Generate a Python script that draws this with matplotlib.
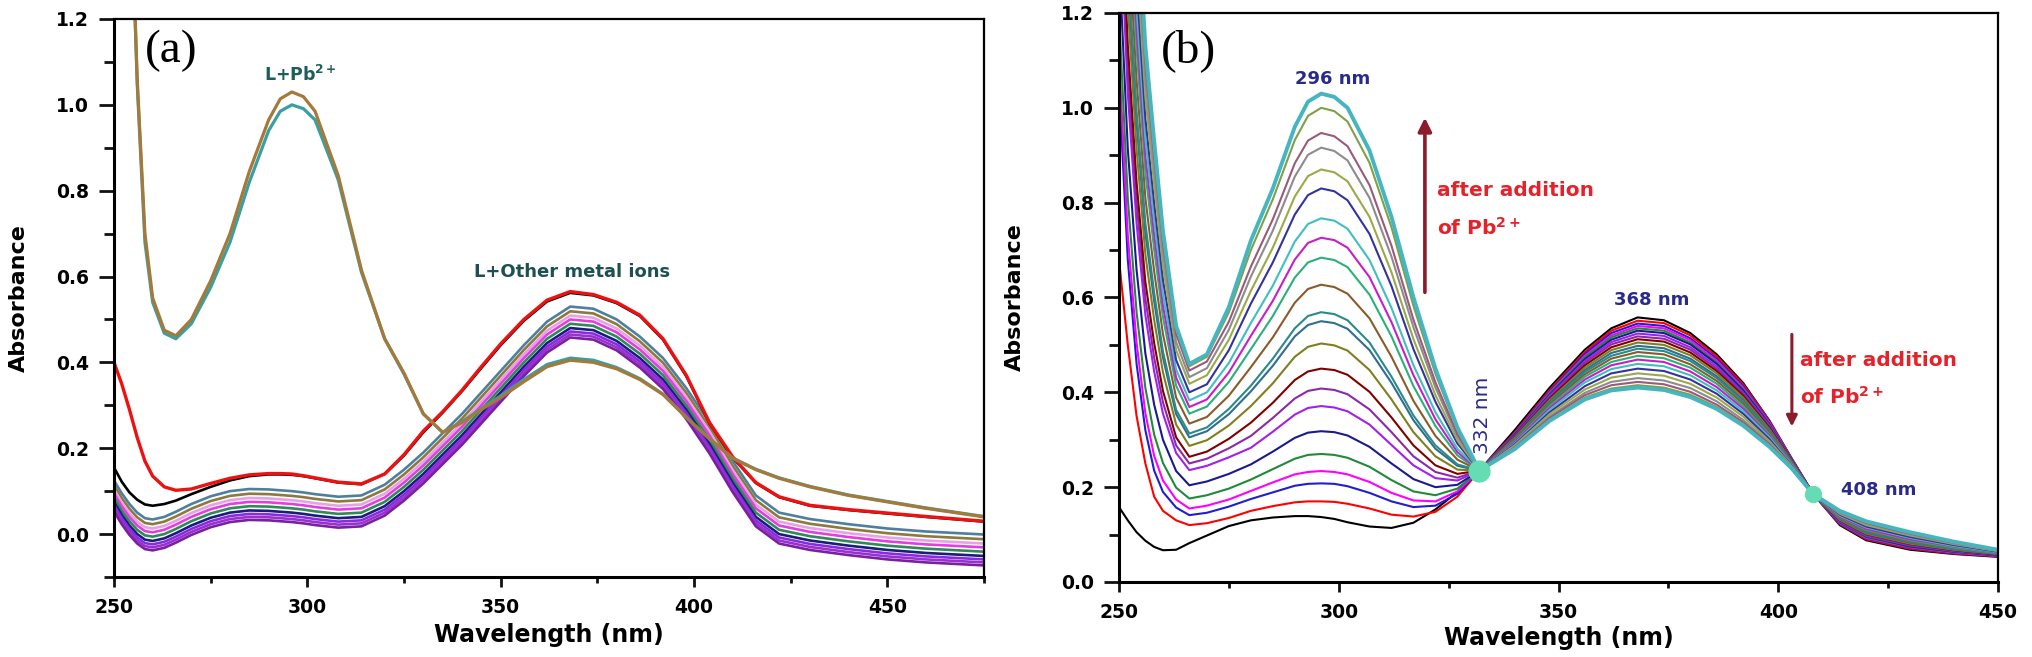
import matplotlib
matplotlib.use("Agg")
import matplotlib.pyplot as plt
from matplotlib.ticker import MultipleLocator, FormatStrFormatter

plt.rcParams['font.family'] = ['DejaVu Sans']
plt.rcParams['mathtext.fontset'] = 'dejavusans'
plt.rcParams['font.weight'] = 'bold'

# ---------------- Panel (a) data ----------------
WL_A = [250, 252, 254, 256, 258, 260, 263, 266, 270, 275, 280, 285, 290, 293, 296, 299,
        302, 308, 314, 320, 325, 330, 335, 340, 345, 350, 356, 362, 368, 374,
        380, 386, 392, 398, 404, 410, 416, 422, 430, 440, 450, 460, 475]

a_pb_brown = [3.0, 2.2, 1.6, 1.06, 0.70, 0.55, 0.475, 0.462, 0.50, 0.59, 0.70, 0.845, 0.965, 1.014, 1.03, 1.019,
              0.985, 0.835, 0.615, 0.455, 0.375, 0.28, 0.237, 0.26, 0.29, 0.318, 0.355, 0.39, 0.405, 0.40,
              0.385, 0.36, 0.325, 0.272, 0.222, 0.177, 0.15, 0.13, 0.11, 0.09, 0.075, 0.06, 0.04]
a_pb_teal = [3.0, 2.2, 1.6, 1.05, 0.68, 0.54, 0.468, 0.455, 0.49, 0.575, 0.68, 0.82, 0.94, 0.985, 1.00, 0.991,
             0.965, 0.825, 0.61, 0.455, 0.373, 0.28, 0.237, 0.262, 0.292, 0.322, 0.36, 0.395, 0.41, 0.405,
             0.388, 0.362, 0.326, 0.272, 0.222, 0.177, 0.151, 0.131, 0.111, 0.091, 0.076, 0.061, 0.041]
a_red = [0.40, 0.35, 0.29, 0.225, 0.17, 0.135, 0.11, 0.102, 0.105, 0.118, 0.13, 0.138, 0.141, 0.141, 0.14, 0.136,
         0.131, 0.121, 0.117, 0.14, 0.185, 0.24, 0.285, 0.335, 0.39, 0.443, 0.5, 0.545, 0.565, 0.558,
         0.54, 0.51, 0.455, 0.37, 0.26, 0.18, 0.12, 0.087, 0.067, 0.057, 0.049, 0.041, 0.03]
a_black = [0.155, 0.122, 0.097, 0.08, 0.069, 0.066, 0.07, 0.078, 0.093, 0.11, 0.125, 0.135, 0.139, 0.139, 0.138, 0.135,
           0.13, 0.12, 0.116, 0.14, 0.183, 0.237, 0.283, 0.333, 0.387, 0.44, 0.497, 0.542, 0.562, 0.556,
           0.538, 0.508, 0.453, 0.368, 0.258, 0.178, 0.119, 0.086, 0.066, 0.056, 0.048, 0.04, 0.029]
a_m0 = [0.125, 0.095, 0.070, 0.050, 0.037, 0.034, 0.040, 0.052, 0.070, 0.088, 0.100, 0.105, 0.104, 0.102, 0.100, 0.097,
        0.093, 0.087, 0.090, 0.115, 0.150, 0.190, 0.235, 0.280, 0.330, 0.380, 0.440, 0.495, 0.530, 0.525,
        0.500, 0.460, 0.410, 0.340, 0.260, 0.170, 0.090, 0.050, 0.035, 0.023, 0.013, 0.006, -0.001]
a_m1 = [0.114, 0.084, 0.059, 0.039, 0.026, 0.023, 0.029, 0.041, 0.059, 0.077, 0.089, 0.094, 0.093, 0.091, 0.089, 0.086,
        0.082, 0.076, 0.079, 0.104, 0.139, 0.179, 0.224, 0.269, 0.319, 0.369, 0.429, 0.484, 0.519, 0.514,
        0.489, 0.449, 0.399, 0.329, 0.249, 0.159, 0.079, 0.039, 0.024, 0.012, 0.002, -0.005, -0.012]
a_m2 = [0.104, 0.074, 0.049, 0.029, 0.016, 0.013, 0.019, 0.031, 0.049, 0.067, 0.079, 0.084, 0.083, 0.081, 0.079, 0.076,
        0.072, 0.066, 0.069, 0.094, 0.129, 0.169, 0.214, 0.259, 0.309, 0.359, 0.419, 0.474, 0.509, 0.504,
        0.479, 0.439, 0.389, 0.319, 0.239, 0.149, 0.069, 0.029, 0.014, 0.002, -0.008, -0.015, -0.022]
a_m3 = [0.095, 0.065, 0.040, 0.020, 0.007, 0.004, 0.010, 0.022, 0.040, 0.058, 0.070, 0.075, 0.074, 0.072, 0.070, 0.067,
        0.063, 0.057, 0.060, 0.085, 0.120, 0.160, 0.205, 0.250, 0.300, 0.350, 0.410, 0.465, 0.500, 0.495,
        0.470, 0.430, 0.380, 0.310, 0.230, 0.140, 0.060, 0.020, 0.005, -0.007, -0.017, -0.024, -0.031]
a_m4 = [0.085, 0.055, 0.030, 0.010, -0.003, -0.006, 0.000, 0.012, 0.030, 0.048, 0.060, 0.065, 0.064, 0.062, 0.060, 0.057,
        0.053, 0.047, 0.050, 0.075, 0.110, 0.150, 0.195, 0.240, 0.290, 0.340, 0.400, 0.455, 0.490, 0.485,
        0.460, 0.420, 0.370, 0.300, 0.220, 0.130, 0.050, 0.010, -0.005, -0.017, -0.027, -0.034, -0.041]
a_m5 = [0.075, 0.045, 0.020, 0.000, -0.013, -0.016, -0.010, 0.002, 0.020, 0.038, 0.050, 0.055, 0.054, 0.052, 0.050, 0.047,
        0.043, 0.037, 0.040, 0.065, 0.100, 0.140, 0.185, 0.230, 0.280, 0.330, 0.390, 0.445, 0.480, 0.475,
        0.450, 0.410, 0.360, 0.290, 0.210, 0.120, 0.040, 0.000, -0.015, -0.027, -0.037, -0.044, -0.051]
a_m6 = [0.067, 0.037, 0.012, -0.008, -0.021, -0.024, -0.018, -0.006, 0.012, 0.030, 0.042, 0.047, 0.046, 0.044, 0.042, 0.039,
        0.035, 0.029, 0.032, 0.057, 0.092, 0.132, 0.177, 0.222, 0.272, 0.322, 0.382, 0.437, 0.472, 0.467,
        0.442, 0.402, 0.352, 0.282, 0.202, 0.112, 0.032, -0.008, -0.023, -0.035, -0.045, -0.052, -0.059]
a_m7 = [0.060, 0.030, 0.005, -0.015, -0.028, -0.031, -0.025, -0.013, 0.005, 0.023, 0.035, 0.040, 0.039, 0.037, 0.035, 0.032,
        0.028, 0.022, 0.025, 0.050, 0.085, 0.125, 0.170, 0.215, 0.265, 0.315, 0.375, 0.430, 0.465, 0.460,
        0.435, 0.395, 0.345, 0.275, 0.195, 0.105, 0.025, -0.015, -0.030, -0.042, -0.052, -0.059, -0.066]
a_m8 = [0.053, 0.023, -0.002, -0.022, -0.035, -0.038, -0.032, -0.020, -0.002, 0.016, 0.028, 0.033, 0.032, 0.030, 0.028, 0.025,
        0.021, 0.015, 0.018, 0.043, 0.078, 0.118, 0.163, 0.208, 0.258, 0.308, 0.368, 0.423, 0.458, 0.453,
        0.428, 0.388, 0.338, 0.268, 0.188, 0.098, 0.018, -0.022, -0.037, -0.049, -0.059, -0.066, -0.073]

A_METAL_SERIES = [a_m0, a_m1, a_m2, a_m3, a_m4, a_m5, a_m6, a_m7, a_m8]
A_METAL_COLORS = ['#4f7f9f', '#8c7a3c', '#e8a0e8', '#e23ee2', '#2e8b57', '#1c1c7c',
                  '#8a2be2', '#9932cc', '#7b1fa2']

# ---------------- Panel (b) data ----------------
WL_B = [250, 252, 254, 256, 258, 260, 263, 266, 270, 275, 280, 285, 290, 293, 296, 299, 302, 307, 312, 317, 322,
        327, 332, 340, 348, 356, 362, 368, 374, 380, 386, 392, 398, 403, 408, 414, 420, 430, 440, 450]

b00 = [0.158, 0.130, 0.105, 0.087, 0.074, 0.067, 0.068, 0.082, 0.098, 0.118, 0.130, 0.136, 0.139, 0.139, 0.137, 0.133, 0.126, 0.117, 0.114, 0.125, 0.153, 0.190, 0.235, 0.320, 0.410, 0.490, 0.535, 0.558, 0.552, 0.525, 0.480, 0.420, 0.340, 0.260, 0.185, 0.120, 0.088, 0.068, 0.059, 0.053]
b01 = [0.680, 0.500, 0.350, 0.250, 0.180, 0.150, 0.130, 0.120, 0.124, 0.135, 0.150, 0.160, 0.168, 0.170, 0.170, 0.169, 0.165, 0.155, 0.142, 0.138, 0.148, 0.180, 0.235, 0.315, 0.405, 0.485, 0.530, 0.551, 0.546, 0.520, 0.476, 0.417, 0.340, 0.262, 0.185, 0.122, 0.090, 0.070, 0.060, 0.054]
b02 = [1.050, 0.680, 0.460, 0.320, 0.235, 0.190, 0.157, 0.141, 0.146, 0.159, 0.175, 0.189, 0.203, 0.207, 0.208, 0.207, 0.202, 0.188, 0.170, 0.158, 0.161, 0.186, 0.235, 0.313, 0.402, 0.481, 0.525, 0.545, 0.540, 0.514, 0.471, 0.413, 0.338, 0.261, 0.185, 0.123, 0.092, 0.072, 0.061, 0.055]
b03 = [1.109, 0.731, 0.504, 0.356, 0.266, 0.214, 0.174, 0.155, 0.161, 0.174, 0.192, 0.210, 0.227, 0.232, 0.234, 0.232, 0.227, 0.211, 0.188, 0.172, 0.170, 0.191, 0.235, 0.312, 0.400, 0.477, 0.520, 0.540, 0.535, 0.510, 0.467, 0.410, 0.336, 0.260, 0.185, 0.124, 0.093, 0.073, 0.062, 0.055]
b04 = [1.199, 0.809, 0.569, 0.409, 0.311, 0.251, 0.199, 0.176, 0.183, 0.197, 0.216, 0.238, 0.260, 0.268, 0.270, 0.268, 0.262, 0.243, 0.215, 0.191, 0.183, 0.197, 0.235, 0.311, 0.398, 0.474, 0.516, 0.535, 0.530, 0.505, 0.463, 0.407, 0.334, 0.260, 0.185, 0.125, 0.094, 0.074, 0.063, 0.056]
b05 = [1.320, 0.914, 0.658, 0.482, 0.374, 0.300, 0.234, 0.204, 0.212, 0.228, 0.248, 0.275, 0.304, 0.315, 0.318, 0.316, 0.309, 0.285, 0.250, 0.217, 0.200, 0.205, 0.235, 0.310, 0.395, 0.470, 0.511, 0.530, 0.525, 0.501, 0.460, 0.404, 0.332, 0.259, 0.185, 0.126, 0.096, 0.075, 0.064, 0.056]
b06 = [1.455, 1.031, 0.757, 0.563, 0.444, 0.355, 0.272, 0.236, 0.245, 0.263, 0.283, 0.317, 0.353, 0.367, 0.371, 0.368, 0.360, 0.332, 0.289, 0.246, 0.219, 0.214, 0.235, 0.308, 0.393, 0.466, 0.506, 0.524, 0.519, 0.495, 0.455, 0.400, 0.330, 0.258, 0.185, 0.127, 0.097, 0.077, 0.065, 0.057]
b07 = [1.513, 1.081, 0.800, 0.598, 0.473, 0.379, 0.288, 0.250, 0.260, 0.282, 0.308, 0.346, 0.387, 0.403, 0.408, 0.405, 0.396, 0.364, 0.316, 0.265, 0.232, 0.220, 0.235, 0.307, 0.390, 0.462, 0.501, 0.518, 0.513, 0.490, 0.450, 0.397, 0.327, 0.257, 0.185, 0.129, 0.099, 0.078, 0.066, 0.057]
b08 = [1.572, 1.133, 0.843, 0.633, 0.504, 0.403, 0.305, 0.264, 0.275, 0.302, 0.336, 0.378, 0.426, 0.444, 0.450, 0.447, 0.437, 0.401, 0.347, 0.288, 0.246, 0.228, 0.235, 0.305, 0.387, 0.457, 0.495, 0.512, 0.507, 0.484, 0.445, 0.393, 0.325, 0.256, 0.185, 0.130, 0.101, 0.080, 0.067, 0.058]
b09 = [1.668, 1.216, 0.913, 0.691, 0.553, 0.442, 0.332, 0.287, 0.299, 0.330, 0.371, 0.419, 0.475, 0.496, 0.503, 0.499, 0.488, 0.447, 0.385, 0.316, 0.265, 0.237, 0.235, 0.304, 0.384, 0.452, 0.489, 0.505, 0.500, 0.478, 0.440, 0.389, 0.322, 0.255, 0.185, 0.131, 0.102, 0.081, 0.068, 0.059]
b10 = [1.744, 1.281, 0.969, 0.736, 0.592, 0.473, 0.354, 0.305, 0.318, 0.354, 0.402, 0.456, 0.518, 0.542, 0.550, 0.546, 0.534, 0.489, 0.420, 0.341, 0.281, 0.245, 0.235, 0.302, 0.381, 0.447, 0.483, 0.498, 0.493, 0.471, 0.434, 0.384, 0.319, 0.254, 0.185, 0.133, 0.104, 0.083, 0.069, 0.059]
b11 = [1.778, 1.311, 0.994, 0.757, 0.610, 0.486, 0.363, 0.313, 0.326, 0.365, 0.414, 0.471, 0.535, 0.561, 0.569, 0.565, 0.552, 0.505, 0.433, 0.351, 0.288, 0.248, 0.235, 0.300, 0.378, 0.443, 0.477, 0.492, 0.487, 0.466, 0.430, 0.381, 0.317, 0.253, 0.185, 0.134, 0.106, 0.085, 0.070, 0.060]
b12 = [1.867, 1.388, 1.059, 0.810, 0.655, 0.523, 0.389, 0.334, 0.348, 0.393, 0.453, 0.516, 0.589, 0.618, 0.627, 0.622, 0.608, 0.556, 0.475, 0.382, 0.308, 0.258, 0.235, 0.299, 0.375, 0.438, 0.471, 0.485, 0.480, 0.459, 0.424, 0.376, 0.314, 0.252, 0.185, 0.135, 0.108, 0.086, 0.072, 0.061]
b13 = [1.956, 1.465, 1.124, 0.864, 0.701, 0.559, 0.414, 0.355, 0.370, 0.422, 0.491, 0.561, 0.642, 0.674, 0.684, 0.679, 0.664, 0.606, 0.518, 0.413, 0.329, 0.267, 0.235, 0.297, 0.371, 0.433, 0.464, 0.477, 0.472, 0.452, 0.418, 0.371, 0.311, 0.250, 0.185, 0.137, 0.110, 0.088, 0.073, 0.061]
b14 = [2.015, 1.517, 1.168, 0.899, 0.732, 0.583, 0.431, 0.369, 0.385, 0.442, 0.519, 0.593, 0.680, 0.715, 0.726, 0.721, 0.705, 0.643, 0.548, 0.436, 0.343, 0.274, 0.235, 0.295, 0.367, 0.427, 0.457, 0.469, 0.464, 0.444, 0.411, 0.366, 0.308, 0.249, 0.185, 0.138, 0.112, 0.090, 0.075, 0.062]
b15 = [2.075, 1.568, 1.211, 0.935, 0.763, 0.607, 0.448, 0.383, 0.400, 0.462, 0.546, 0.625, 0.718, 0.755, 0.767, 0.762, 0.745, 0.679, 0.578, 0.457, 0.358, 0.281, 0.235, 0.292, 0.363, 0.421, 0.449, 0.460, 0.455, 0.436, 0.404, 0.361, 0.305, 0.248, 0.185, 0.140, 0.115, 0.093, 0.076, 0.063]
b16 = [2.146, 1.630, 1.264, 0.978, 0.799, 0.637, 0.468, 0.400, 0.417, 0.489, 0.587, 0.674, 0.775, 0.816, 0.830, 0.824, 0.805, 0.734, 0.624, 0.491, 0.380, 0.292, 0.235, 0.290, 0.358, 0.413, 0.440, 0.450, 0.445, 0.427, 0.397, 0.355, 0.301, 0.246, 0.185, 0.142, 0.117, 0.095, 0.078, 0.064]
b17 = [2.222, 1.696, 1.319, 1.023, 0.838, 0.667, 0.489, 0.418, 0.436, 0.511, 0.614, 0.705, 0.813, 0.856, 0.870, 0.864, 0.845, 0.770, 0.653, 0.512, 0.394, 0.299, 0.235, 0.288, 0.354, 0.406, 0.431, 0.440, 0.435, 0.418, 0.389, 0.349, 0.297, 0.245, 0.185, 0.144, 0.120, 0.098, 0.080, 0.065]
b18 = [2.281, 1.747, 1.363, 1.059, 0.869, 0.692, 0.506, 0.432, 0.451, 0.532, 0.644, 0.741, 0.855, 0.901, 0.916, 0.909, 0.889, 0.810, 0.686, 0.537, 0.410, 0.307, 0.235, 0.285, 0.349, 0.399, 0.422, 0.430, 0.425, 0.409, 0.381, 0.342, 0.293, 0.243, 0.185, 0.146, 0.123, 0.100, 0.081, 0.066]
b19 = [2.341, 1.799, 1.406, 1.094, 0.899, 0.716, 0.523, 0.446, 0.465, 0.549, 0.665, 0.765, 0.883, 0.931, 0.947, 0.940, 0.919, 0.837, 0.709, 0.553, 0.421, 0.312, 0.235, 0.283, 0.346, 0.394, 0.415, 0.422, 0.417, 0.401, 0.374, 0.337, 0.290, 0.242, 0.185, 0.148, 0.125, 0.102, 0.083, 0.067]
b20 = [2.378, 1.831, 1.434, 1.117, 0.919, 0.731, 0.534, 0.455, 0.475, 0.569, 0.700, 0.807, 0.932, 0.983, 1.000, 0.993, 0.971, 0.884, 0.748, 0.582, 0.439, 0.321, 0.235, 0.281, 0.342, 0.389, 0.408, 0.415, 0.410, 0.395, 0.369, 0.333, 0.287, 0.241, 0.185, 0.149, 0.127, 0.104, 0.084, 0.068]
b21 = [2.400, 1.850, 1.450, 1.130, 0.930, 0.740, 0.540, 0.460, 0.480, 0.580, 0.720, 0.830, 0.960, 1.013, 1.030, 1.023, 1.000, 0.910, 0.770, 0.600, 0.450, 0.326, 0.235, 0.280, 0.340, 0.385, 0.404, 0.410, 0.405, 0.390, 0.365, 0.330, 0.285, 0.240, 0.185, 0.150, 0.128, 0.105, 0.085, 0.068]

B_SERIES = [b00, b01, b02, b03, b04, b05, b06, b07, b08, b09, b10,
            b11, b12, b13, b14, b15, b16, b17, b18, b19, b20, b21]
B_COLORS = ['#000000', '#ff0000', '#1f1fd0', '#ff00ff', '#1f8a3a', '#1a1a8c', '#a020f0',
            '#8b2aa8', '#800000', '#7f7f1f', '#2f6f8f', '#2a8a8a', '#8b5a2b', '#2ab07a',
            '#c71ec7', '#3fbfbf', '#3232a0', '#9aaa4a', '#8c8c8c', '#9a5a7a', '#7ea04a', '#45b5c0']

ISO_WL = [332, 408]
ISO_ABS = [0.235, 0.185]
ISO_LABELS = ['332 nm', '408 nm']

# ---------------- Figure ----------------
fig = plt.figure(figsize=(20.32, 6.57), dpi=100)
axA = fig.add_axes([0.05610, 0.12177, 0.42815, 0.84932])
axB = fig.add_axes([0.55069, 0.11416, 0.43258, 0.86606])


def style(ax, xlim, ylim, ylab_x, xlab_y):
    ax.set_xlim(*xlim)
    ax.set_ylim(*ylim)
    ax.xaxis.set_major_locator(MultipleLocator(50))
    ax.xaxis.set_minor_locator(MultipleLocator(25))
    ax.yaxis.set_major_locator(MultipleLocator(0.2))
    ax.yaxis.set_minor_locator(MultipleLocator(0.1))
    ax.yaxis.set_major_formatter(FormatStrFormatter('%.1f'))
    ax.tick_params(which='both', direction='out', top=False, right=False, width=2.0, color='#111111')
    ax.tick_params(axis='y', which='major', length=11, pad=7, labelsize=13.5)
    ax.tick_params(axis='y', which='minor', length=7.5)
    ax.tick_params(axis='x', which='major', length=7, pad=8, labelsize=13.5)
    ax.tick_params(axis='x', which='minor', length=4.5)
    for side in ['left', 'bottom']:
        ax.spines[side].set_linewidth(2.2)
    for side in ['top', 'right']:
        ax.spines[side].set_linewidth(1.6)
    ax.set_xlabel('Wavelength (nm)', fontsize=17, fontweight='bold')
    ax.set_ylabel('Absorbance', fontsize=16, fontweight='bold')
    ax.xaxis.set_label_coords(0.5, xlab_y)
    ax.xaxis.label.set_verticalalignment('center')
    ax.yaxis.set_label_coords(ylab_x, 0.5)
    ax.yaxis.label.set_verticalalignment('center')


# Panel (a)
for ser, col in zip(A_METAL_SERIES, A_METAL_COLORS):
    axA.plot(WL_A, ser, color=col, lw=1.9, solid_joinstyle='round')
axA.plot(WL_A, a_black, color='#000000', lw=1.9, solid_joinstyle='round')
axA.plot(WL_A, a_red, color='#ee1111', lw=2.4, solid_joinstyle='round')
axA.plot(WL_A, a_pb_teal, color='#3a9fa0', lw=2.3, solid_joinstyle='round')
axA.plot(WL_A, a_pb_brown, color='#a5793a', lw=2.3, solid_joinstyle='round')
style(axA, (250, 475), (-0.1, 1.2), -0.1098, -0.104)
axA.text(264.8, 1.126, '(a)', family='Liberation Serif', fontweight='normal',
         fontsize=34, ha='center', va='center')
axA.text(298.2, 1.07, r'L+Pb$^{\mathbf{2+}}$', fontsize=12.5, color='#1d5e5a',
         ha='center', va='center')
axA.text(368.5, 0.61, 'L+Other metal ions', fontsize=13, color='#1d5050',
         ha='center', va='center')

# Panel (b)
for i, (ser, col) in enumerate(zip(B_SERIES, B_COLORS)):
    lw = 2.8 if i == len(B_SERIES) - 1 else 1.5
    axB.plot(WL_B, ser, color=col, lw=lw, solid_joinstyle='round')
axB.plot([ISO_WL[0]], [ISO_ABS[0]], 'o', ms=15, color='#66dcb4', zorder=6)
axB.plot([ISO_WL[1]], [ISO_ABS[1]], 'o', ms=11.5, color='#66dcb4', zorder=6)
style(axB, (250, 450), (0, 1.2), -0.1183, -0.0984)
axB.text(265.7, 1.12, '(b)', family='Liberation Serif', fontweight='normal',
         fontsize=34, ha='center', va='center')
navy = '#2a2a8a'
axB.text(298.7, 1.061, '296 nm', fontsize=13, color=navy, ha='center', va='center')
axB.text(371.3, 0.594, '368 nm', fontsize=13, color=navy, ha='center', va='center')
axB.text(422.9, 0.194, ISO_LABELS[1], fontsize=13, color=navy, ha='center', va='center')
axB.text(332.6, 0.352, ISO_LABELS[0], fontsize=14.5, color=navy, ha='center', va='center',
         rotation=90, fontweight='normal')

red_txt = '#e5222c'
axB.annotate('', xy=(319.6, 0.985), xytext=(319.6, 0.605),
             arrowprops=dict(arrowstyle='-|>', color='#8b1c2c', lw=2.6, mutation_scale=20))
axB.text(322.4, 0.825, 'after addition', fontsize=14.5, color=red_txt, ha='left', va='center')
axB.text(322.4, 0.747, r'of Pb$^{2+}$', fontsize=14.5, color=red_txt, ha='left', va='center')

axB.annotate('', xy=(403.1, 0.322), xytext=(403.1, 0.528),
             arrowprops=dict(arrowstyle='-|>', color='#8b1c2c', lw=2.2, mutation_scale=16))
axB.text(404.9, 0.467, 'after addition', fontsize=14.5, color=red_txt, ha='left', va='center')
axB.text(404.9, 0.39, r'of Pb$^{2+}$', fontsize=14.5, color=red_txt, ha='left', va='center')

fig.savefig('out.png', dpi=100)
